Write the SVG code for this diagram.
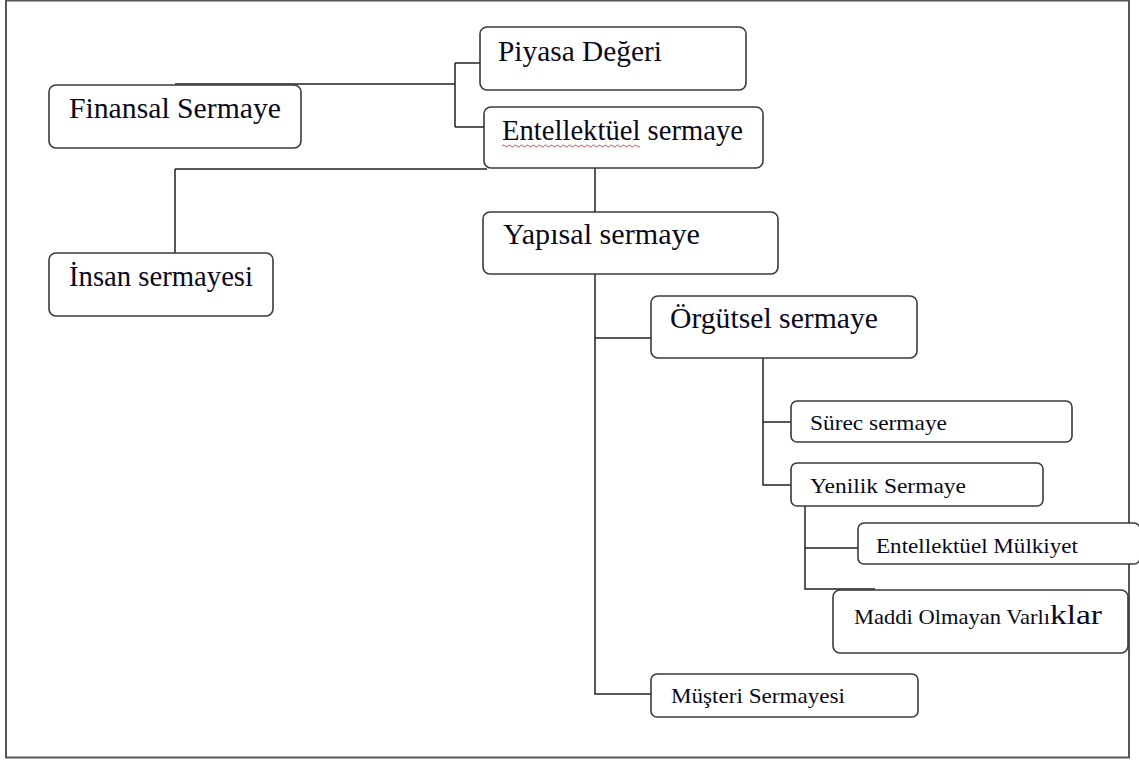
<svg xmlns="http://www.w3.org/2000/svg" width="1139" height="762" viewBox="0 0 1139 762">
<style>
.box{fill:#fff;stroke:#3a3a3a;stroke-width:1.6}
.ln{fill:none;stroke:#222;stroke-width:1.5}
.big{font-family:"Liberation Serif","Times New Roman",serif;font-size:29px;fill:#0a0a1a}
.sm{font-family:"Liberation Serif","Times New Roman",serif;font-size:22px;fill:#0a0a1a}
.kl{font-family:"Liberation Serif","Times New Roman",serif;font-size:28px;fill:#0a0a1a}
</style>
<rect x="0" y="0" width="1139" height="762" fill="#fff"/>
<rect x="6" y="0.5" width="1123" height="757" fill="none" stroke="#555" stroke-width="2"/>
<g id="connectors">
<path class="ln" d="M175,84 H455 M455,63 V127 M455,63 H480 M455,127 H484"/>
<path class="ln" d="M595,148 V212 M175,169 H487 M175,169 V253"/>
<path class="ln" d="M595,274 V694 H651 M595,338 H651"/>
<path class="ln" d="M763,358 V485 H791 M763,422 H791"/>
<path class="ln" d="M805,506 V589 H875 M805,548 H858"/>
</g>
<g id="finansal"><rect class="box" x="49" y="85" width="252" height="63" rx="7"/><text class="big" x="69" y="118" textLength="212" lengthAdjust="spacingAndGlyphs">Finansal Sermaye</text></g>
<g id="piyasa"><rect class="box" x="480" y="27" width="266" height="63" rx="7"/><text class="big" x="498" y="61" textLength="164" lengthAdjust="spacingAndGlyphs">Piyasa Değeri</text></g>
<g id="entellektuel"><rect class="box" x="484" y="107" width="279" height="61" rx="7"/><text class="big" x="502" y="140" textLength="241" lengthAdjust="spacingAndGlyphs">Entellektüel sermaye</text>
<path d="M502,146 q1.5,-2 3,0 t3,0 t3,0 t3,0 t3,0 t3,0 t3,0 t3,0 t3,0 t3,0 t3,0 t3,0 t3,0 t3,0 t3,0 t3,0 t3,0 t3,0 t3,0 t3,0 t3,0 t3,0 t3,0 t3,0 t3,0 t3,0 t3,0 t3,0 t3,0 t3,0 t3,0 t3,0 t3,0 t3,0 t3,0 t3,0 t3,0 t3,0 t3,0 t3,0 t3,0 t3,0 t3,0 t3,0 t3,0 t3,0" fill="none" stroke="#e03030" stroke-width="0.9"/></g>
<g id="insan"><rect class="box" x="49" y="253" width="224" height="63" rx="7"/><text class="big" x="69" y="286" textLength="184" lengthAdjust="spacingAndGlyphs">İnsan sermayesi</text></g>
<g id="yapisal"><rect class="box" x="483" y="212" width="295" height="62" rx="7"/><text class="big" x="503" y="244" textLength="197" lengthAdjust="spacingAndGlyphs">Yapısal sermaye</text></g>
<g id="orgutsel"><rect class="box" x="651" y="296" width="266" height="62" rx="7"/><text class="big" x="670" y="328" textLength="208" lengthAdjust="spacingAndGlyphs">Örgütsel sermaye</text></g>
<g id="surec"><rect class="box" x="791" y="401" width="281" height="41" rx="6"/><text class="sm" x="810" y="430" textLength="137" lengthAdjust="spacingAndGlyphs">Sürec sermaye</text></g>
<g id="yenilik"><rect class="box" x="791" y="463" width="252" height="43" rx="6"/><text class="sm" x="810" y="493" textLength="156" lengthAdjust="spacingAndGlyphs">Yenilik Sermaye</text></g>
<g id="mulkiyet"><rect class="box" x="858" y="523" width="282" height="41" rx="6"/><text class="sm" x="876" y="553" textLength="202" lengthAdjust="spacingAndGlyphs">Entellektüel Mülkiyet</text></g>
<g id="maddi"><rect class="box" x="833" y="590" width="295" height="63" rx="7"/><text x="854" y="624"><tspan class="sm" textLength="196" lengthAdjust="spacingAndGlyphs">Maddi Olmayan Varlı</tspan><tspan class="kl" textLength="52" lengthAdjust="spacingAndGlyphs">klar</tspan></text></g>
<g id="musteri"><rect class="box" x="651" y="674" width="267" height="43" rx="6"/><text class="sm" x="671" y="703" textLength="174" lengthAdjust="spacingAndGlyphs">Müşteri Sermayesi</text></g>
</svg>
